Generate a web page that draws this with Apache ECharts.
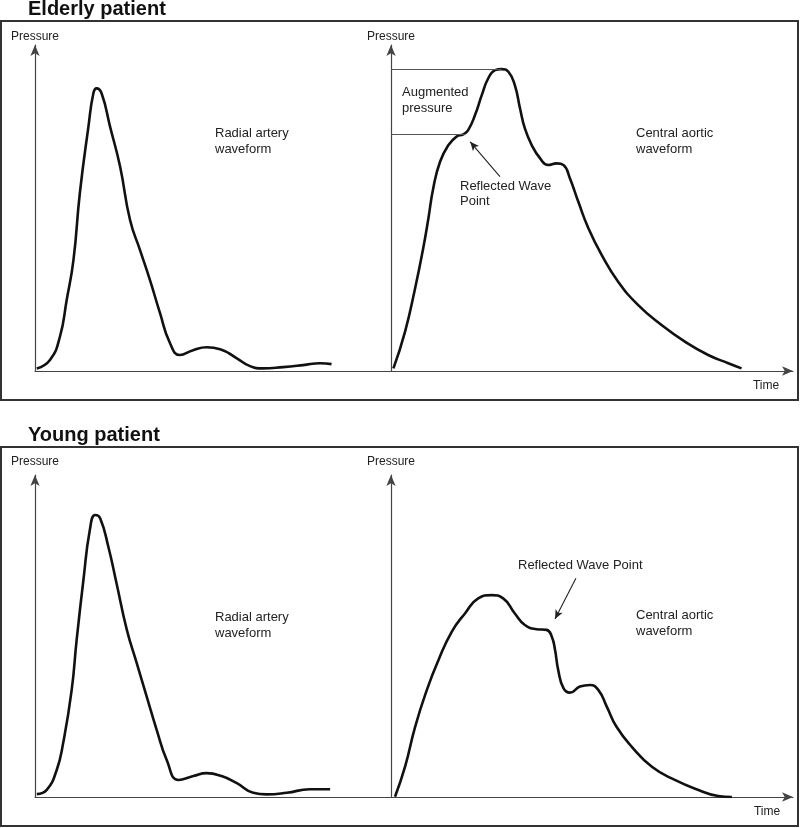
<!DOCTYPE html>
<html><head><meta charset="utf-8">
<script src="https://cdn.jsdelivr.net/npm/echarts@6/dist/echarts.min.js"></script>
<style>html,body{margin:0;padding:0;background:#fff}#c{width:800px;height:828px}</style>
</head><body><div id="c"></div>
<script>
// ---- Data (arbitrary units: time 0-100, pressure 0-100 per panel) ----
const elderlyRadialT = [0.5, 4.2, 7.0, 8.9, 10.8, 12.6, 15.0, 16.4, 17.3, 18.7, 21.1, 23.9, 26.7, 29.5, 32.3, 35.1, 37.9, 40.7, 44.4, 48.2, 52.0, 56.7, 60.4, 64.0, 69.7, 75.3, 80.1, 83.3];
const elderlyRadialP = [0.8, 3.4, 10.5, 21.8, 34.0, 54.6, 74.9, 85.2, 86.7, 85.2, 74.9, 62.7, 46.3, 37.1, 27.9, 17.8, 8.6, 4.9, 6.4, 7.3, 6.7, 3.9, 1.5, 0.8, 1.2, 1.8, 2.4, 2.1];

const elderlyAorticT = [0.6, 3.5, 6.0, 8.0, 9.3, 10.5, 12.2, 14.3, 16.3, 18.0, 19.2, 20.9, 22.6, 24.2, 25.9, 27.5, 29.2, 30.8, 32.1, 33.3, 35.0, 37.1, 39.1, 41.2, 42.9, 44.5, 46.6, 49.1, 52.4, 56.5, 61.5, 67.3, 73.1, 78.9, 83.9, 87.2];
const elderlyAorticP = [0.8, 12.1, 25.4, 37.6, 46.8, 56.0, 64.2, 69.3, 71.9, 72.6, 73.9, 78.5, 84.7, 89.8, 92.3, 92.6, 91.8, 87.7, 80.5, 74.4, 69.3, 65.2, 63.2, 63.7, 63.2, 59.1, 51.9, 43.8, 35.6, 27.4, 20.2, 14.1, 9.0, 4.9, 2.4, 0.8];
const elderlyShoulderIndex = 9;   // reflected wave point
const elderlyArrow = [[27.1, 59.6], [19.7, 70.3]];

const youngRadialT = [0.5, 3.3, 6.1, 7.9, 10.3, 11.7, 13.6, 15.4, 16.9, 18.3, 20.6, 22.9, 25.8, 28.6, 31.4, 34.2, 37.0, 40.3, 44.5, 48.2, 52.4, 56.7, 61.3, 65.1, 70.7, 77.2, 82.9];
const youngRadialP = [0.9, 2.2, 8.4, 16.7, 33.2, 48.8, 67.4, 82.9, 87.6, 86.6, 77.7, 66.4, 51.9, 41.5, 31.1, 20.8, 11.5, 5.3, 6.5, 7.4, 6.5, 4.3, 1.3, 0.8, 1.3, 2.4, 2.4];

const youngAorticT = [1.0, 3.5, 6.0, 8.9, 11.8, 15.1, 18.4, 21.7, 25.0, 27.9, 30.8, 33.3, 36.2, 38.7, 40.0, 40.8, 41.6, 42.9, 44.5, 47.0, 49.5, 51.6, 53.7, 56.1, 59.9, 64.9, 70.6, 76.5, 81.4, 84.8];
const youngAorticP = [0.1, 9.4, 21.8, 33.2, 42.5, 51.3, 57.0, 61.7, 62.7, 61.7, 57.0, 53.4, 52.1, 51.9, 49.8, 45.7, 39.4, 33.8, 32.4, 34.3, 34.8, 33.2, 28.0, 21.8, 15.6, 9.4, 5.3, 2.2, 0.3, 0.0];
const youngArrow = [[46.0, 67.9], [40.8, 55.3]];

const panelTitles = ['Elderly patient', 'Young patient'];
const yAxisName = 'Pressure';
const xAxisName = 'Time';

// ---- Build ----
const FONT = '"Liberation Sans", Arial, Helvetica, sans-serif';
const AX = '#444';
const zip = (a, b) => a.map((v, i) => [v, b[i]]);

const grids = [
  {left: 35, top: 45, width: 356, height: 326},
  {left: 391, top: 45, width: 402, height: 326},
  {left: 35, top: 475, width: 356, height: 322},
  {left: 391, top: 475, width: 402, height: 322}
];

function xAx(gi, arrow) {
  return {type: 'value', gridIndex: gi, min: 0, max: 100,
    axisLine: {show: true, onZero: false, lineStyle: {color: AX, width: 1.2},
      symbol: arrow ? ['none', 'arrow'] : 'none', symbolSize: [7, 11]},
    axisTick: {show: false}, axisLabel: {show: false}, splitLine: {show: false}};
}
function yAx(gi, gap) {
  return {type: 'value', gridIndex: gi, min: 0, max: 100,
    name: yAxisName, nameLocation: 'end', nameGap: gap,
    nameTextStyle: {fontSize: 12, color: '#222', fontFamily: FONT},
    axisLine: {show: true, onZero: false, lineStyle: {color: AX, width: 1.2},
      symbol: ['none', 'arrow'], symbolSize: [7, 11]},
    axisTick: {show: false}, axisLabel: {show: false}, splitLine: {show: false}};
}

function curve(gi, t, p, markLine) {
  const s = {type: 'line', xAxisIndex: gi, yAxisIndex: gi, data: zip(t, p),
    showSymbol: false, smooth: 0.5, lineStyle: {color: '#111', width: 2.6},
    silent: true, animation: false};
  if (markLine) s.markLine = markLine;
  return s;
}

function arrowItem(a) {
  return [{coord: a[0], symbol: 'none'}, {coord: a[1], symbol: 'arrow', symbolSize: [6, 9]}];
}

// augmented pressure lines from peak and shoulder
let pk = 0;
elderlyAorticP.forEach((v, i) => { if (v > elderlyAorticP[pk]) pk = i; });
const peakPt = [elderlyAorticT[pk], elderlyAorticP[pk]];
const shPt = [elderlyAorticT[elderlyShoulderIndex], elderlyAorticP[elderlyShoulderIndex]];

const mlElderly = {silent: true, animation: false, label: {show: false},
  symbol: 'none', lineStyle: {color: '#555', width: 1, type: 'solid'},
  data: [
    [{coord: [0, peakPt[1]]}, {coord: peakPt}],
    [{coord: [0, shPt[1]]}, {coord: [shPt[0] + 0.4, shPt[1]]}],
    arrowItem(elderlyArrow).map(d => Object.assign(d, {lineStyle: {color: '#222', width: 1.1}}))
  ]};
const mlYoung = {silent: true, animation: false, label: {show: false},
  symbol: 'none', lineStyle: {color: '#222', width: 1.1, type: 'solid'},
  data: [arrowItem(youngArrow)]};

const txt = (x, y, s, extra) => ({type: 'text', x: x, y: y, silent: true,
  style: Object.assign({text: s, fill: '#222', font: '13px ' + FONT, lineHeight: 16, verticalAlign: 'top'}, extra || {})});

const chart = echarts.init(document.getElementById('c'), null, {renderer: 'canvas'});
chart.setOption({
  backgroundColor: '#fff',
  animation: false,
  grid: grids,
  xAxis: [xAx(0, false), xAx(1, true), xAx(2, false), xAx(3, true)],
  yAxis: [yAx(0, 2), yAx(1, 2), yAx(2, 7), yAx(3, 7)],
  series: [
    curve(0, elderlyRadialT, elderlyRadialP),
    curve(1, elderlyAorticT, elderlyAorticP, mlElderly),
    curve(2, youngRadialT, youngRadialP),
    curve(3, youngAorticT, youngAorticP, mlYoung)
  ],
  graphic: [
    {type: 'rect', shape: {x: 1, y: 21, width: 797, height: 379}, silent: true, style: {fill: 'none', stroke: '#333', lineWidth: 2}},
    {type: 'rect', shape: {x: 1, y: 447, width: 797, height: 379}, silent: true, style: {fill: 'none', stroke: '#333', lineWidth: 2}},
    txt(28, 9, panelTitles[0], {font: 'bold 20px ' + FONT, fill: '#111', verticalAlign: 'middle'}),
    txt(28, 435, panelTitles[1], {font: 'bold 20px ' + FONT, fill: '#111', verticalAlign: 'middle'}),
    txt(215, 125, 'Radial artery\nwaveform'),
    txt(402, 84, 'Augmented\npressure'),
    txt(636, 125, 'Central aortic\nwaveform'),
    txt(460, 179, 'Reflected Wave\nPoint', {lineHeight: 15}),
    txt(766, 386, xAxisName, {font: '12px ' + FONT, align: 'center', verticalAlign: 'middle'}),
    txt(215, 609, 'Radial artery\nwaveform'),
    txt(518, 565, 'Reflected Wave Point', {verticalAlign: 'middle'}),
    txt(636, 607, 'Central aortic\nwaveform'),
    txt(767, 812, xAxisName, {font: '12px ' + FONT, align: 'center', verticalAlign: 'middle'})
  ]
});
</script>
</body></html>
